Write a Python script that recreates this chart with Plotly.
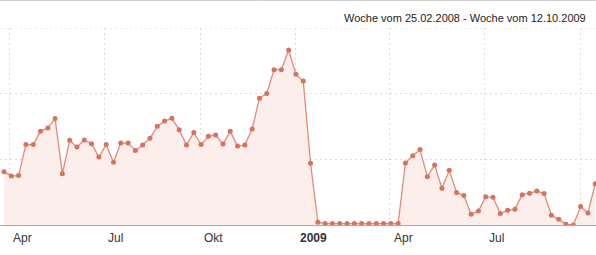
import pandas as pd
import plotly.graph_objects as go

# Weekly data (week starting Monday), visible part of the chart
week_start = pd.date_range("2008-03-24", "2009-10-12", freq="7D")
values = [
    40.6, 37.3, 37.6, 61.2, 61.2, 71.3, 73.8, 81.0, 39.1, 64.5,
    59.4, 64.7, 61.9, 51.7, 61.2, 47.7, 62.4, 62.4, 56.8, 60.9,
    66.0, 75.1, 79.1, 81.2, 72.6, 60.9, 70.5, 61.2, 67.5, 68.5,
    61.6, 71.3, 60.1, 60.9, 73.1, 96.6, 100.2, 118.3, 118.3, 133.2,
    114.7, 109.6, 47.0, 2.1, 1.1, 1.1, 1.1, 1.1, 1.1, 1.1,
    1.1, 1.1, 1.1, 1.1, 1.1, 47.2, 52.8, 57.4, 36.8, 45.7,
    27.9, 41.6, 24.7, 22.4, 8.1, 10.7, 21.6, 21.1, 8.7, 11.2,
    11.9, 23.1, 24.1, 25.9, 23.9, 7.4, 4.3, 0.5, 0.0, 14.0,
    9.1, 31.5,
]
quarter_ticks = ["2008-04-01", "2008-07-01", "2008-10-01", "2009-01-01",
                 "2009-04-01", "2009-07-01", "2009-10-01"]
quarter_labels = ["Apr", "Jul", "Okt", "<b>2009</b>", "Apr", "Jul", ""]
y_grid = [50, 100, 150]
header = "Woche vom 25.02.2008 - Woche vom 12.10.2009"

x_mid = week_start + pd.Timedelta(days=3)

FONT = "Liberation Sans, Arial, sans-serif"
GRID = "#dcdcdc"

fig = go.Figure()
fig.add_trace(go.Scatter(
    x=x_mid, y=values, mode="lines+markers",
    line=dict(color="#df8c78", width=1.3),
    marker=dict(color="#d6725e", size=5),
    fill="tozeroy", fillcolor="rgba(252,236,233,0.9)",
    hoverinfo="skip", showlegend=False,
))

fig.update_xaxes(
    range=["2008-03-23 04:00", "2009-10-15 18:00"],
    tickvals=quarter_ticks, showticklabels=False, ticks="",
    showgrid=True, gridcolor=GRID, griddash="2px,3px", gridwidth=1,
    showline=True, linecolor="#b0a8ab", linewidth=1, zeroline=False,
)
fig.update_yaxes(
    range=[0, 150], tickvals=y_grid, showticklabels=False, ticks="",
    showgrid=True, gridcolor=GRID, griddash="2px,3px", gridwidth=1,
    zeroline=False, showline=False,
)

for d, lab in zip(quarter_ticks, quarter_labels):
    if lab:
        fig.add_annotation(
            x=d, xref="x", y=0, yref="paper", text=lab, showarrow=False,
            xanchor="left", yanchor="middle", xshift=2, yshift=-13,
            font=dict(family=FONT, size=12, color="#333333"),
        )

fig.add_annotation(
    x=1, xref="paper", y=1, yref="paper", text=header, showarrow=False,
    xanchor="right", yanchor="middle", xshift=-8, yshift=10,
    font=dict(family=FONT, size=11, color="#222222"),
)

# top gridline at the edge of the plot area
fig.add_shape(type="line", xref="paper", x0=0, x1=1, yref="y",
              y0=150, y1=150, line=dict(color=GRID, width=1, dash="2px,3px"))
# thin frame line along the very top of the picture
fig.add_shape(type="line", xref="paper", x0=0, x1=1, yref="paper",
              y0=1 + 27.5 / 197, y1=1 + 27.5 / 197,
              line=dict(color="#d0d0d0", width=1))

fig.update_layout(
    width=596, height=255,
    margin=dict(l=0, r=0, t=28, b=30),
    paper_bgcolor="white", plot_bgcolor="white",
    font=dict(family=FONT),
)
fig.write_html("out.html")
